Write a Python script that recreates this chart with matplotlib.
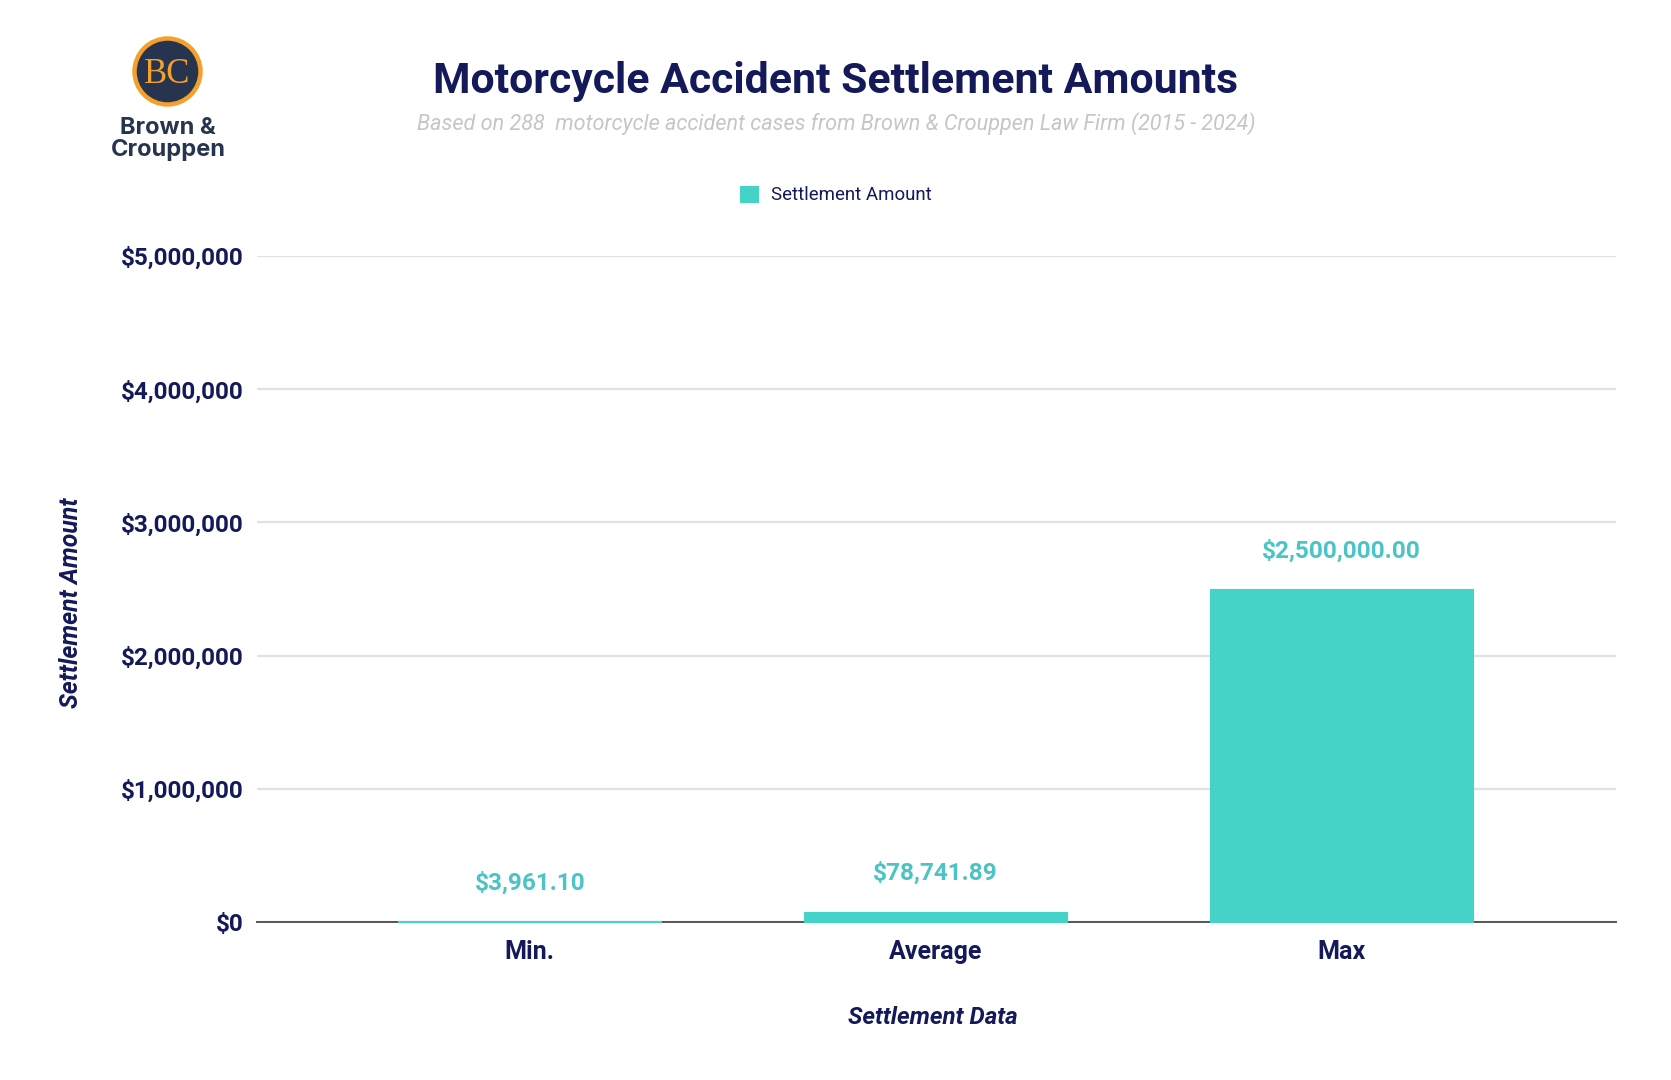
import matplotlib
matplotlib.use("Agg")
import matplotlib.pyplot as plt
from matplotlib.patches import Ellipse
from matplotlib.ticker import FuncFormatter

categories = ["Min.", "Average", "Max"]
settlement_values = [3961.10, 78741.89, 2500000.00]
value_labels = ["$3,961.10", "$78,741.89", "$2,500,000.00"]
y_ticks = [0, 1000000, 2000000, 3000000, 4000000, 5000000]

W, H = 1671, 1080
NAVY = "#14195A"
TEAL = "#46D3C7"
LABEL_TEAL = "#4CC3C4"
LOGO_NAVY = "#27344F"
LOGO_ORANGE = "#F5A02A"

plt.rcParams["font.family"] = ["Roboto", "DejaVu Sans"]


def fx(x):
    return x / W


def fy(y):
    return 1 - y / H


def main():
    fig = plt.figure(figsize=(W / 100, H / 100), dpi=100, facecolor="white")
    ax = fig.add_axes([fx(257), fy(922), fx(1615.5 - 257), (922 - 256) / H])

    bars = ax.bar(range(3), settlement_values, width=0.648, color=TEAL, edgecolor=TEAL,
                  linewidth=0.8, joinstyle="round", label="Settlement Amount", zorder=3,
                  clip_on=False)
    ax.set_xlim(-0.672, 2.675)
    ax.set_ylim(0, 5000000)

    ax.set_yticks(y_ticks)
    ax.yaxis.set_major_formatter(FuncFormatter(lambda v, _: f"${v:,.0f}"))
    ax.set_xticks(range(3), categories)
    ax.tick_params(axis="both", length=0, labelcolor=NAVY)
    ax.tick_params(axis="y", pad=9.5, labelsize=17.5)
    ax.tick_params(axis="x", pad=13, labelsize=18)
    for lab in ax.get_xticklabels() + ax.get_yticklabels():
        lab.set_fontweight("bold")

    ax.grid(axis="y", color="#E2E2E2", linewidth=1.6, zorder=0)
    ax.set_axisbelow(True)
    for side in ["top", "right", "left"]:
        ax.spines[side].set_visible(False)
    ax.spines["bottom"].set_color("#555555")
    ax.spines["bottom"].set_linewidth(1.4)
    ax.spines["bottom"].set_zorder(2)

    # value labels sit a fixed gap above each bar
    for bar, text in zip(bars, value_labels):
        ax.annotate(text, (bar.get_x() + bar.get_width() / 2, bar.get_height()),
                    xytext=(0, 19), textcoords="offset points", ha="center", va="bottom",
                    color=LABEL_TEAL, fontsize=17.6, fontweight="semibold")

    fig.text(fx(836), fy(81), "Motorcycle Accident Settlement Amounts", ha="center", va="center",
             color=NAVY, fontsize=30.8, fontweight="bold")
    fig.text(fx(836), fy(123.5), "Based on 288  motorcycle accident cases from Brown & Crouppen Law Firm (2015 - 2024)",
             ha="center", va="center", color="#C6C6C6", fontsize=15.6, style="italic")

    fig.text(fx(71), fy(603), "Settlement Amount", rotation=90, ha="center", va="center",
             color=NAVY, fontsize=17.8, fontweight="bold", style="italic")
    fig.text(fx(933), fy(1018), "Settlement Data", ha="center", va="center",
             color=NAVY, fontsize=17.4, fontweight="bold", style="italic")

    ax.legend(loc="center", bbox_to_anchor=(fx(835.5), fy(195)), bbox_transform=fig.transFigure,
              frameon=False, handlelength=1, handleheight=1, handletextpad=0.67,
              fontsize=13.4, labelcolor=NAVY)

    # logo
    fig.add_artist(Ellipse((fx(167.5), fy(71.5)), 66 / W, 66 / H, transform=fig.transFigure,
                           facecolor=LOGO_NAVY, edgecolor=LOGO_ORANGE, linewidth=3.2))
    fig.text(fx(167.5), fy(74.5), "BC", ha="center", va="center", color=LOGO_ORANGE,
             fontsize=25, family="Liberation Serif")
    fig.text(fx(168), fy(128), "Brown &", ha="center", va="center", color=LOGO_NAVY,
             fontsize=17, fontweight="bold", family="Inter")
    fig.text(fx(168), fy(150), "Crouppen", ha="center", va="center", color=LOGO_NAVY,
             fontsize=17, fontweight="bold", family="Inter")

    fig.savefig("out.png", dpi=100, facecolor="white")


if __name__ == "__main__":
    main()
